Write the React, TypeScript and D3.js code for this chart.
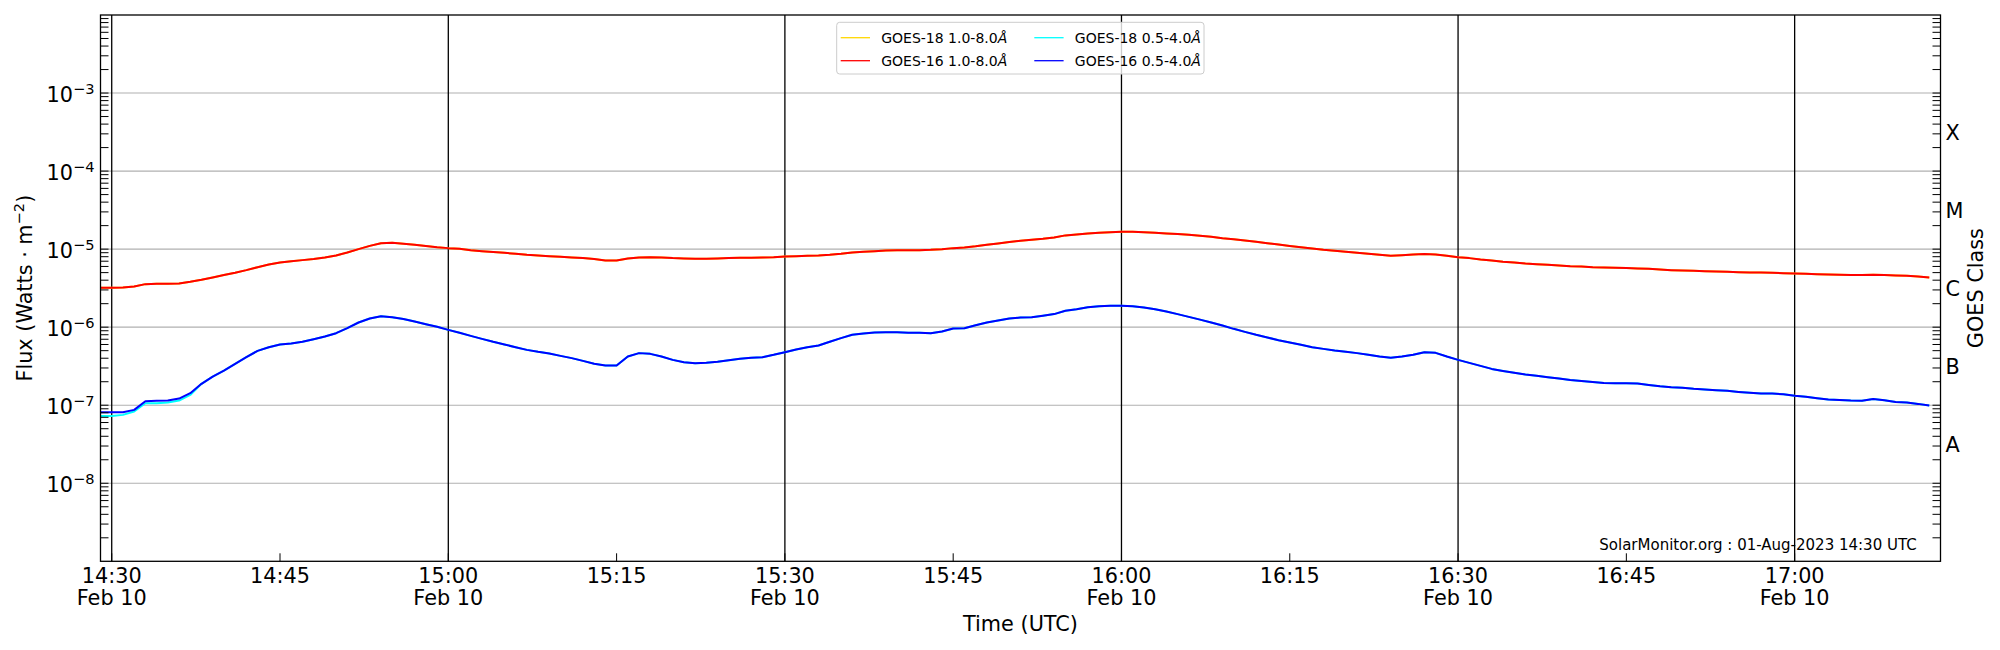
import { useEffect, useRef } from "react";
import * as d3 from "d3";

// GOES XRS one-minute samples from 14:29 to 17:12 UTC, in µW/m²
const startTime = Date.UTC(2023, 1, 10, 14, 29);
const MICRO = 1e-6;

const goes16Long = [
  3.19, 3.19, 3.23, 3.32, 3.56, 3.6, 3.6, 3.63, 3.81, 4.05, 4.34, 4.65, 4.98, 5.38, 5.87, 6.35,
  6.75, 7.01, 7.23, 7.45, 7.82, 8.3, 9.06, 10.0, 11.0, 11.9, 12.05, 11.7, 11.4, 11.0, 10.6, 10.3,
  10.1, 9.7, 9.42, 9.16, 8.97, 8.71, 8.45, 8.3, 8.13, 7.98,
  7.82, 7.67, 7.45, 7.16, 7.16, 7.59, 7.82, 7.89, 7.82, 7.67, 7.59, 7.52, 7.52, 7.59, 7.67, 7.74,
  7.74, 7.82, 7.89, 8.05, 8.13, 8.22, 8.3, 8.45, 8.71, 9.06, 9.24, 9.42, 9.61, 9.7, 9.7, 9.7,
  9.8, 10.0, 10.3, 10.5, 10.9, 11.4, 11.8, 12.3, 12.8,
  13.18, 13.55, 14.1, 15.0, 15.4, 15.9, 16.2, 16.5, 16.7, 16.7, 16.5, 16.2, 15.9, 15.6, 15.3, 14.8,
  14.4, 13.8, 13.4, 12.9, 12.4, 11.9, 11.48, 11.0, 10.6, 10.2, 9.8, 9.52, 9.24, 8.97, 8.71, 8.45,
  8.22, 8.37, 8.55, 8.63, 8.55, 8.22, 7.89, 7.67, 7.38,
  7.16, 6.89, 6.75, 6.55, 6.42, 6.3, 6.18, 6.05, 6.0, 5.87, 5.82, 5.77, 5.71, 5.65, 5.6, 5.48,
  5.38, 5.32, 5.27, 5.22, 5.17, 5.12, 5.07, 5.02, 5.02, 4.98, 4.92, 4.88, 4.83, 4.78, 4.73, 4.69,
  4.65, 4.65, 4.69, 4.65, 4.59, 4.55, 4.47, 4.34,
];

// the GOES-18 long channel sits right under GOES-16 for the whole window
const goes18Long = goes16Long;

const goes16Short = [
  0.0813, 0.0813, 0.0813, 0.0871, 0.1125, 0.1137, 0.1148, 0.1217, 0.1425, 0.188, 0.233, 0.278,
  0.339, 0.412, 0.497, 0.554, 0.6, 0.618, 0.649, 0.702, 0.759, 0.837, 0.97, 1.148, 1.29, 1.38,
  1.34, 1.27, 1.18, 1.09, 1.01, 0.924, 0.846, 0.774, 0.708, 0.649, 0.6, 0.554, 0.512, 0.483,
  0.46, 0.429,
  0.401, 0.37, 0.339, 0.323, 0.323, 0.421, 0.465, 0.455, 0.421, 0.381, 0.356, 0.345, 0.349, 0.36,
  0.378, 0.393, 0.405, 0.412, 0.442, 0.478, 0.518, 0.554, 0.582, 0.649, 0.723, 0.798, 0.83, 0.855,
  0.863, 0.863, 0.846, 0.846, 0.837, 0.879, 0.961, 0.97, 1.06, 1.148, 1.22, 1.29, 1.33,
  1.34, 1.4, 1.47, 1.62, 1.7, 1.8, 1.86, 1.88, 1.88, 1.86, 1.79, 1.7, 1.59, 1.47, 1.355, 1.25,
  1.148, 1.05, 0.952, 0.871, 0.798, 0.738, 0.681, 0.635, 0.594, 0.554, 0.527, 0.502, 0.483, 0.465,
  0.442, 0.421, 0.405, 0.421, 0.442, 0.478, 0.469, 0.421, 0.381, 0.349, 0.319,
  0.292, 0.275, 0.26, 0.247, 0.238, 0.229, 0.22, 0.211, 0.205, 0.199, 0.193, 0.191, 0.191, 0.19,
  0.182, 0.175, 0.17, 0.167, 0.162, 0.159, 0.156, 0.153, 0.148, 0.144, 0.141, 0.141, 0.138, 0.132,
  0.128, 0.123, 0.118, 0.117, 0.1148, 0.114, 0.1205, 0.116, 0.11, 0.108, 0.104, 0.0991,
];

// GOES-18 short channel: only the first minutes show apart from GOES-16
const goes18ShortHead = [0.073, 0.073, 0.0752, 0.083, 0.106, 0.106, 0.108, 0.1148, 0.1355];
const goes18Short = [...goes18ShortHead, ...goes16Short.slice(goes18ShortHead.length)];

const series = [
  { name: "GOES-18 1.0-8.0", color: "#ffd700", values: goes18Long },
  { name: "GOES-16 1.0-8.0", color: "#ff0000", values: goes16Long },
  { name: "GOES-18 0.5-4.0", color: "#00ffff", values: goes18Short },
  { name: "GOES-16 0.5-4.0", color: "#0000ff", values: goes16Short },
];

const decadeLabels = [-8, -7, -6, -5, -4, -3];
const goesClasses = ["A", "B", "C", "M", "X"];
const classFloor = [1e-8, 1e-7, 1e-6, 1e-5, 1e-4];

const W = 2000;
const H = 650;
const FONT = "DejaVu Sans, sans-serif";
const FS = 20.8;
const FS_SUP = 14.6;

const App = () => {
  const svgRef = useRef<SVGSVGElement>(null);

  useEffect(() => {
    if (!svgRef.current) return;
    const svg = d3.select(svgRef.current);
    svg.selectAll("*").remove();

    const m = { left: 100.5, right: 1940.5, top: 15, bottom: 561.3 };
    const times = goes16Long.map((_, i) => new Date(startTime + i * 60000));

    const x = d3
      .scaleUtc()
      .domain([new Date(startTime), new Date(startTime + 164 * 60000)])
      .range([m.left, m.right]);
    const y = d3.scaleLog().domain([1e-9, 1e-2]).range([m.bottom, m.top]);

    // horizontal grid at each decade
    svg
      .selectAll("line.grid")
      .data(decadeLabels)
      .join("line")
      .attr("class", "grid")
      .attr("x1", m.left)
      .attr("x2", m.right)
      .attr("y1", (d) => y(10 ** d))
      .attr("y2", (d) => y(10 ** d))
      .attr("stroke", "#b0b0b0")
      .attr("stroke-width", 1.1);

    // black markers every half hour
    const halfHours = x.ticks(d3.utcMinute.every(30)!);
    svg
      .selectAll("line.vmark")
      .data(halfHours)
      .join("line")
      .attr("class", "vmark")
      .attr("x1", (d) => x(d))
      .attr("x2", (d) => x(d))
      .attr("y1", m.top)
      .attr("y2", m.bottom)
      .attr("stroke", "#000")
      .attr("stroke-width", 1.3);

    // flux curves
    const line = d3
      .line<number>()
      .x((_, i) => x(times[i]))
      .y((d) => y(d * MICRO));

    svg
      .selectAll("path.flux")
      .data(series)
      .join("path")
      .attr("class", "flux")
      .attr("d", (s) => line(s.values))
      .attr("fill", "none")
      .attr("stroke", (s) => s.color)
      .attr("stroke-width", 2)
      .attr("stroke-linejoin", "round");

    // frame
    svg
      .append("rect")
      .attr("x", m.left)
      .attr("y", m.top)
      .attr("width", m.right - m.left)
      .attr("height", m.bottom - m.top)
      .attr("fill", "none")
      .attr("stroke", "#000")
      .attr("stroke-width", 1.3);

    // y ticks, major and minor, inside both sides
    const yTicks: number[] = [];
    for (let e = -9; e <= -3; e++) {
      for (let k = 1; k <= 9; k++) {
        if (e === -9 && k === 1) continue;
        yTicks.push(k * 10 ** e);
      }
    }
    const tickLen = 8;
    const yt = svg.append("g").attr("stroke", "#000").attr("stroke-width", 1);
    yTicks.forEach((v) => {
      const yy = y(v);
      yt.append("line").attr("x1", m.left).attr("x2", m.left + tickLen).attr("y1", yy).attr("y2", yy);
      yt.append("line").attr("x1", m.right - tickLen).attr("x2", m.right).attr("y1", yy).attr("y2", yy);
    });

    // x ticks every 15 min
    const quarterHours = x.ticks(d3.utcMinute.every(15)!);
    svg
      .selectAll("line.xtick")
      .data(quarterHours)
      .join("line")
      .attr("class", "xtick")
      .attr("x1", (d) => x(d))
      .attr("x2", (d) => x(d))
      .attr("y1", m.bottom)
      .attr("y2", m.bottom - tickLen)
      .attr("stroke", "#000")
      .attr("stroke-width", 1);

    const fmtTime = d3.utcFormat("%H:%M");
    const fmtDay = d3.utcFormat("%b %d");
    svg
      .selectAll("text.xlab")
      .data(quarterHours)
      .join("text")
      .attr("class", "xlab")
      .attr("x", (d) => x(d))
      .attr("y", 582.6)
      .attr("text-anchor", "middle")
      .attr("font-family", FONT)
      .attr("font-size", FS)
      .text((d) => fmtTime(d));
    svg
      .selectAll("text.xday")
      .data(halfHours)
      .join("text")
      .attr("class", "xday")
      .attr("x", (d) => x(d))
      .attr("y", 605)
      .attr("text-anchor", "middle")
      .attr("font-family", FONT)
      .attr("font-size", FS)
      .text((d) => fmtDay(d));

    // y labels 10^n
    const ylab = svg
      .selectAll("text.ylab")
      .data(decadeLabels)
      .join("text")
      .attr("class", "ylab")
      .attr("x", 94.5)
      .attr("y", (d) => y(10 ** d) + 8.7)
      .attr("text-anchor", "end")
      .attr("font-family", FONT)
      .attr("font-size", FS);
    ylab.append("tspan").text("10");
    ylab
      .append("tspan")
      .attr("dy", -8)
      .attr("font-size", FS_SUP)
      .text((d) => `\u2212${-d}`);

    // GOES class letters on the right
    svg
      .selectAll("text.cls")
      .data(goesClasses)
      .join("text")
      .attr("class", "cls")
      .attr("x", m.right + 5)
      .attr("y", (_, i) => y(Math.sqrt(classFloor[i] * classFloor[i] * 10)) + 7.5)
      .attr("font-family", FONT)
      .attr("font-size", FS)
      .text((d) => d);

    // axis titles
    const midY = (m.top + m.bottom) / 2;
    const fluxLab = svg
      .append("text")
      .attr("transform", `translate(32,${midY}) rotate(-90)`)
      .attr("text-anchor", "middle")
      .attr("font-family", FONT)
      .attr("font-size", FS);
    fluxLab.append("tspan").text("Flux (Watts \u00b7 m");
    fluxLab.append("tspan").attr("dy", -8).attr("font-size", FS_SUP).text("\u22122");
    fluxLab.append("tspan").attr("dy", 8).text(")");

    svg
      .append("text")
      .attr("transform", `translate(1983,${midY}) rotate(-90)`)
      .attr("text-anchor", "middle")
      .attr("font-family", FONT)
      .attr("font-size", FS)
      .text("GOES Class");

    svg
      .append("text")
      .attr("x", (m.left + m.right) / 2)
      .attr("y", 631)
      .attr("text-anchor", "middle")
      .attr("font-family", FONT)
      .attr("font-size", FS)
      .text("Time (UTC)");

    svg
      .append("text")
      .attr("x", 1916.7)
      .attr("y", 549.5)
      .attr("text-anchor", "end")
      .attr("font-family", FONT)
      .attr("font-size", 15)
      .text("SolarMonitor.org : 01-Aug-2023 14:30 UTC");

    // legend, two columns filled top to bottom
    const lg = svg.append("g");
    lg.append("rect")
      .attr("x", 836.7)
      .attr("y", 22.3)
      .attr("width", 367.3)
      .attr("height", 51.7)
      .attr("rx", 3)
      .attr("fill", "#fff")
      .attr("fill-opacity", 0.8)
      .attr("stroke", "#cccccc")
      .attr("stroke-width", 1);
    const colX = [840.7, 1034.3];
    const rowY = [37.7, 60.7];
    series.forEach((s, i) => {
      const cx = colX[Math.floor(i / 2)];
      const cy = rowY[i % 2];
      lg.append("line")
        .attr("x1", cx)
        .attr("x2", cx + 29.3)
        .attr("y1", cy)
        .attr("y2", cy)
        .attr("stroke", s.color)
        .attr("stroke-width", 1.3);
      const t = lg
        .append("text")
        .attr("x", cx + 40.5)
        .attr("y", cy + 5)
        .attr("font-family", FONT)
        .attr("font-size", 14);
      t.append("tspan").text(s.name);
      t.append("tspan").attr("font-style", "italic").text("\u00c5");
    });
  }, []);

  return (
    <svg
      ref={svgRef}
      width={W}
      height={H}
      viewBox={`0 0 ${W} ${H}`}
      style={{ position: "absolute", left: 0, top: 0, background: "#fff", display: "block" }}
    />
  );
};

export default App;
